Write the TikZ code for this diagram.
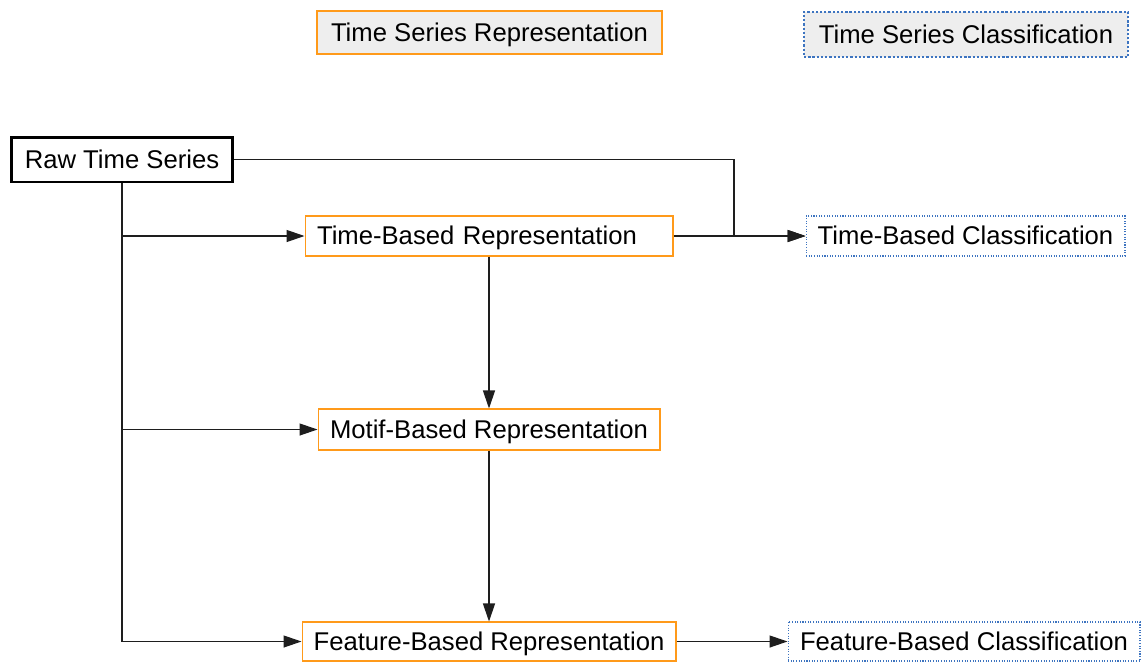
\documentclass[tikz,border=0pt]{standalone}
\usepackage{fontspec}
\setmainfont{Liberation Sans}
\usetikzlibrary{arrows.meta}
\definecolor{repor}{HTML}{FF9A1A}
\definecolor{clsblue}{HTML}{3D74C0}
\definecolor{keygray}{HTML}{EEEEEE}
\definecolor{linegray}{HTML}{1E1E1E}
\begin{document}
\begin{tikzpicture}[x=0.02cm, y=-0.02cm,
	every node/.style={font=\fontsize{14.6}{17}\selectfont, inner sep=0pt, anchor=center, text height=10.2pt, text depth=0pt},
	repbox/.style={draw=repor, line width=0.6pt},
	clsbox/.style={draw=clsblue, line width=0.6pt, dash pattern=on 0.6pt off 0.9pt},
	conn/.style={draw=linegray, line width=0.7pt, -{Triangle[length=0.36cm, width=0.24cm]}}]
			%\draw[help lines, color=gray!30, dashed] (0,0) grid (1142,663);
			\useasboundingbox (0,0) rectangle (1142,663);
			% key
			\node[draw=repor, line width=1.6pt, fill=keygray, minimum width=6.9cm, minimum height=0.86cm] (keyrep) at (489.5,32.5) {Time Series Representation};
			\node[draw=clsblue, line width=1.4pt, dash pattern=on 1.3pt off 1.1pt, fill=keygray, minimum width=6.48cm, minimum height=0.9cm] (keycls) at (966,34.5) {Time Series Classification};
			% boxes
			\node[draw=black, line width=1.7pt, minimum width=4.44cm, minimum height=0.9cm] (raw) at (122,159.5) {Raw Time Series};
			\node[repbox, text width=6.88cm, align=left, inner xsep=0.24cm, minimum height=0.8cm] (tbr) at (489,236) {Time-Based Representation};
			\node[clsbox, minimum width=6.38cm, minimum height=0.8cm] (tbc) at (965.5,236) {Time-Based Classification};
			\node[repbox, minimum width=6.84cm, minimum height=0.82cm] (mbr) at (489,429.5) {Motif-Based Representation};
			\node[repbox, minimum width=7.48cm, minimum height=0.78cm] (fbr) at (489,641.5) {Feature-Based Representation};
			\node[clsbox, minimum width=7.04cm, minimum height=0.78cm] (fbc) at (964,641.5) {Feature-Based Classification};
			\coordinate (jn) at (734,236);
			% connectors
			\draw[conn] (raw.east) -| (jn) -- (tbc.west);
			\draw[conn] (tbr.east) -- (tbc.west);
			\draw[conn] (raw.south) |- (fbr.west);
			\draw[conn] (raw.south |- tbr.west) -- (tbr.west);
			\draw[conn] (raw.south |- mbr.west) -- (mbr.west);
			\draw[conn] (tbr.south) -- (mbr.north);
			\draw[conn] (mbr.south) -- (fbr.north);
			\draw[conn] (fbr.east) -- (fbc.west);
\end{tikzpicture}
\end{document}
